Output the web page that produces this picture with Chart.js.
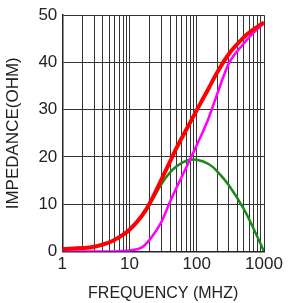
<!DOCTYPE html>
<html>
<head>
<meta charset="utf-8">
<script src="https://cdn.jsdelivr.net/npm/chart.js@4/dist/chart.umd.min.js"></script>
<style>
  body { margin: 0; background: #fff; }
  #wrap { width: 289px; height: 303px; }
</style>
</head>
<body>
<div id="wrap"><canvas id="chart" width="289" height="303"></canvas></div>
<script>
// frequency points (MHz)
const freqs = [1, 2, 3, 5, 7, 10, 15, 20, 30, 40, 50, 70, 100, 150, 200, 300, 500, 700, 1000];
// impedance Z (red)
const zValues = [0.5, 0.7, 1.0, 1.9, 3.0, 4.6, 7.4, 10.2, 15.3, 19.0, 21.9, 25.8, 29.9, 34.5, 37.8, 41.8, 45.3, 47.0, 48.5];
// resistance R (magenta)
const rValues = [0, 0, 0, 0, 0.05, 0.2, 0.8, 2.5, 6.3, 10.5, 13.5, 17.8, 22.5, 28.2, 33.2, 39.8, 44.0, 46.3, 48.3];
// reactance X (green)
const xValues = [0.5, 0.7, 1.0, 1.9, 3.0, 4.6, 7.3, 10.0, 14.3, 16.7, 18.0, 19.2, 19.4, 18.5, 17.0, 14.0, 9.0, 4.8, 0];

const xTicks = [1, 2, 3, 4, 5, 6, 7, 8, 9, 10, 20, 30, 40, 50, 60, 70, 80, 90, 100, 200, 300, 400, 500, 600, 700, 800, 900, 1000];
const xLabels = [1, 10, 100, 1000];
const yTicks = [0, 10, 20, 30, 40, 50];

function toPoints(vals) {
  return freqs.map((f, i) => ({ x: f, y: vals[i] }));
}

const ctx = document.getElementById("chart").getContext("2d");

new Chart(ctx, {
  type: "line",
  data: {
    datasets: [
      { label: "Z", data: toPoints(zValues), borderColor: "#ff0000", borderWidth: 4, tension: 0.4, order: 0 },
      { label: "R", data: toPoints(rValues), borderColor: "#ff00ff", borderWidth: 2.5, cubicInterpolationMode: "monotone", order: 1 },
      { label: "X", data: toPoints(xValues), borderColor: "#1a8a1a", borderWidth: 2.5, tension: 0.4, order: 2 }
    ]
  },
  options: {
    responsive: false,
    animation: false,
    elements: { point: { radius: 0 } },
    layout: { padding: { top: 8, right: 25, left: 3, bottom: 0 } },
    plugins: { legend: { display: false }, tooltip: { enabled: false } },
    scales: {
      x: {
        type: "logarithmic",
        min: 1,
        max: 1000,
        afterBuildTicks: (axis) => { axis.ticks = xTicks.map(v => ({ value: v })); },
        ticks: {
          autoSkip: false,
          maxRotation: 0,
          color: "#222",
          font: { family: "Liberation Sans, Arial", size: 17 },
          padding: 3,
          callback: (v) => xLabels.includes(v) ? String(v) : ""
        },
        grid: { color: "#333", lineWidth: 1, drawTicks: false },
        border: { color: "#222", width: 1.5 },
        title: {
          display: true,
          text: "FREQUENCY (MHZ)",
          color: "#222",
          font: { family: "Liberation Sans, Arial", size: 16 },
          padding: { top: 6, bottom: 0 }
        }
      },
      y: {
        min: 0,
        max: 50,
        afterBuildTicks: (axis) => { axis.ticks = yTicks.map(v => ({ value: v })); },
        ticks: {
          color: "#222",
          font: { family: "Liberation Sans, Arial", size: 17 },
          padding: 5
        },
        grid: { color: "#333", lineWidth: 1, drawTicks: false },
        border: { color: "#222", width: 1.5 },
        title: {
          display: true,
          text: "IMPEDANCE(OHM)",
          color: "#222",
          font: { family: "Liberation Sans, Arial", size: 17 },
          padding: { top: 0, bottom: 10 }
        }
      }
    }
  }
});
</script>
</body>
</html>
